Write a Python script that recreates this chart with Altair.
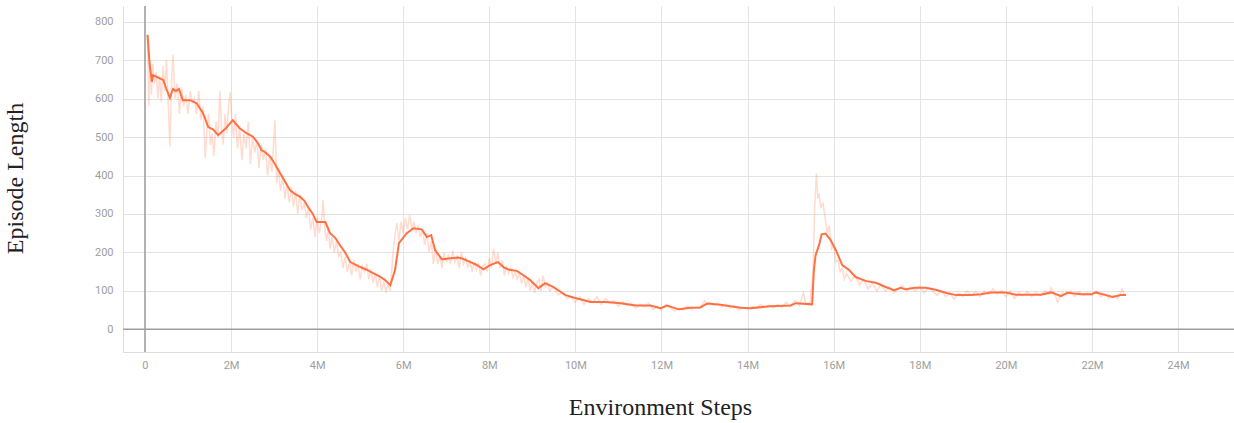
import altair as alt
import pandas as pd

# ---- data (steps in millions) ----
smooth_steps = [0.06, 0.11, 0.16, 0.19, 0.30, 0.43, 0.49, 0.58, 0.65, 0.72, 0.79, 0.88, 1.05, 1.20, 1.35,
                1.47, 1.58, 1.70, 1.80, 1.88, 2.04, 2.20, 2.36, 2.51, 2.62, 2.71, 2.80, 2.91, 3.02, 3.14,
                3.25, 3.37, 3.48, 3.60, 3.70, 3.79, 3.90, 3.99, 4.19,
                4.30, 4.42, 4.53, 4.65, 4.77, 5.00, 5.15, 5.30, 5.45, 5.58, 5.70, 5.81, 5.90, 6.08, 6.24,
                6.43, 6.55, 6.65, 6.74,
                6.90, 7.10, 7.28, 7.40, 7.56, 7.70, 7.86, 8.02, 8.20, 8.35, 8.49, 8.64, 8.80, 8.95, 9.14,
                9.30, 9.49, 9.77, 10.04, 10.35,
                10.70, 11.05, 11.40, 11.74, 11.98, 12.13, 12.40, 12.67, 12.90, 13.06, 13.37, 13.84, 14.07,
                14.53, 15.00, 15.12, 15.50, 15.54, 15.58, 15.66, 15.72, 15.81, 15.93, 16.05, 16.20, 16.36,
                16.51, 16.74, 16.98, 17.21, 17.40, 17.56, 17.67, 17.90, 18.14, 18.37, 18.60, 18.84, 19.19,
                19.42, 19.65, 20.00, 20.23, 20.81, 21.05, 21.20, 21.28, 21.43, 21.74, 21.98, 22.09, 22.33,
                22.48, 22.67, 22.79]
smooth_vals = [766, 688, 644, 661, 655, 648, 627, 602, 625, 620, 625, 596, 596, 588, 562,
               526, 520, 505, 515, 523, 544, 523, 510, 501, 485, 466, 460, 449, 430, 406,
               385, 362, 352, 345, 335, 318, 300, 279, 279,
               250, 238, 219, 200, 175, 162, 155, 146, 138, 128, 115, 154, 224, 250, 263,
               260, 240, 245, 206,
               182, 185, 187, 183, 175, 168, 156, 167, 175, 160, 154, 152, 140, 128, 107,
               120, 110, 89, 80, 71,
               71, 68, 62, 62, 55, 62, 52, 56, 57, 67, 64, 56, 55,
               60, 62, 68, 65, 154, 193, 219, 247, 249, 232, 206, 167, 154,
               136, 126, 121, 110, 102, 108, 104, 108, 108, 103, 95, 89, 89,
               91, 96, 96, 90, 90, 96, 90, 86, 95, 91, 91, 96, 89,
               84, 89, 89]

raw_steps = [0.06, 0.09, 0.12, 0.15, 0.18, 0.22, 0.26, 0.30, 0.34, 0.38, 0.42, 0.46, 0.50, 0.55, 0.58,
             0.62, 0.65, 0.70, 0.75, 0.80, 0.85, 0.90, 0.95, 1.00, 1.05, 1.10, 1.15, 1.20, 1.25, 1.30,
             1.35, 1.40, 1.44, 1.48, 1.52, 1.56, 1.60, 1.65, 1.70, 1.74, 1.78, 1.82, 1.86, 1.90, 1.94,
             1.98, 2.02, 2.06, 2.10, 2.15, 2.20, 2.25, 2.30, 2.35, 2.40, 2.45, 2.50, 2.55, 2.60, 2.65,
             2.70, 2.75, 2.80, 2.85, 2.90, 2.95, 3.02, 3.06, 3.10, 3.15, 3.20, 3.25, 3.30, 3.35, 3.40,
             3.45, 3.50, 3.55, 3.60, 3.65, 3.70, 3.75, 3.80, 3.85, 3.90, 3.95, 4.00, 4.05, 4.10, 4.14,
             4.18, 4.22, 4.26, 4.30, 4.35, 4.40, 4.45, 4.50, 4.55, 4.60, 4.65, 4.70, 4.75, 4.80, 4.85,
             4.90, 4.95, 5.00, 5.05, 5.10, 5.15, 5.20, 5.25, 5.30, 5.35, 5.40, 5.45, 5.50, 5.55, 5.60,
             5.65, 5.70, 5.75, 5.80, 5.85, 5.90, 5.95, 6.00, 6.05, 6.10, 6.15, 6.20, 6.25, 6.30, 6.35,
             6.40, 6.45, 6.50, 6.55, 6.60, 6.65, 6.70, 6.75, 6.80, 6.85, 6.90, 6.95, 7.00, 7.05, 7.10,
             7.15, 7.20, 7.25, 7.30, 7.35, 7.40, 7.45, 7.50, 7.55, 7.60, 7.65, 7.70, 7.75, 7.80, 7.85,
             7.90, 7.95, 8.00, 8.05, 8.10, 8.15, 8.20, 8.25, 8.30, 8.35, 8.40, 8.45, 8.50, 8.55, 8.60,
             8.65, 8.70, 8.75, 8.80, 8.85, 8.90, 8.95, 9.00, 9.05, 9.10, 9.15, 9.20, 9.25, 9.30, 9.35,
             9.40, 9.50, 9.60, 9.70, 9.80, 9.90, 10.00, 10.10, 10.20, 10.30, 10.40, 10.50, 10.60, 10.70,
             10.80, 10.90, 11.00, 11.10, 11.20, 11.30, 11.40, 11.50, 11.60, 11.70, 11.80, 11.90, 12.00,
             12.10, 12.20, 12.30, 12.40, 12.50, 12.60, 12.70, 12.80, 12.90, 13.00, 13.05, 13.10, 13.20,
             13.30, 13.40, 13.50, 13.60, 13.70, 13.80, 13.90, 14.00, 14.10, 14.20, 14.30, 14.40, 14.50,
             14.60, 14.70, 14.80, 14.90, 15.00, 15.10, 15.20, 15.30, 15.35, 15.45, 15.52, 15.56, 15.60,
             15.63, 15.66, 15.70, 15.75, 15.80, 15.85, 15.90, 15.95, 16.00, 16.05, 16.10, 16.15, 16.20,
             16.25, 16.30, 16.40, 16.50, 16.60, 16.70, 16.80, 16.90, 17.00, 17.10, 17.20, 17.30, 17.40,
             17.50, 17.60, 17.70, 17.80, 17.90, 18.00, 18.10, 18.20, 18.30, 18.40, 18.50, 18.60, 18.70,
             18.80, 18.90, 19.00, 19.10, 19.20, 19.30, 19.40, 19.50, 19.60, 19.70, 19.80, 19.90, 20.00,
             20.10, 20.20, 20.30, 20.40, 20.50, 20.60, 20.70, 20.80, 20.90, 21.00, 21.05, 21.15, 21.20,
             21.30, 21.40, 21.50, 21.60, 21.70, 21.80, 21.90, 22.00, 22.10, 22.20, 22.30, 22.40, 22.50,
             22.60, 22.70, 22.75, 22.79]
raw_vals = [766, 580, 700, 610, 690, 640, 670, 600, 660, 590, 685, 620, 700, 560, 475,
            650, 715, 600, 640, 560, 630, 580, 610, 560, 620, 590, 600, 560, 620, 545,
            580, 445, 520, 560, 480, 510, 450, 540, 500, 620, 520, 480, 560, 510, 580,
            617, 540, 500, 560, 470, 530, 440, 510, 470, 540, 430, 500, 460, 490, 420,
            480, 440, 470, 400, 450, 410, 544, 380, 420, 360, 400, 340, 380, 330, 370,
            320, 360, 300, 350, 310, 330, 290, 320, 260, 290, 240, 290, 250, 280, 336,
            260, 230, 270, 210, 240, 200, 230, 190, 200, 160, 190, 150, 175, 140, 180,
            150, 170, 130, 165, 150, 170, 130, 155, 120, 145, 110, 140, 100, 125, 95,
            120, 100, 180, 240, 276, 230, 280, 250, 290, 260, 297, 260, 280, 250, 270,
            240, 260, 220, 250, 200, 230, 170, 210, 170, 190, 160, 200, 175, 195, 170,
            205, 175, 190, 160, 200, 170, 185, 160, 180, 150, 175, 155, 170, 140, 165,
            170, 150, 185, 160, 210, 170, 200, 160, 180, 140, 165, 145, 160, 135, 150,
            130, 145, 120, 140, 110, 135, 100, 125, 95, 120, 130, 100, 140, 110, 120,
            100, 110, 90, 95, 80, 85, 70, 85, 65, 80, 70, 85, 65, 80,
            70, 75, 60, 72, 62, 68, 55, 65, 58, 68, 52, 60, 50,
            65, 55, 48, 55, 50, 60, 52, 58, 55, 75, 65, 70, 62,
            68, 58, 65, 55, 62, 50, 58, 52, 60, 55, 65, 58, 62,
            55, 65, 58, 70, 60, 75, 62, 95, 65, 70, 150, 320, 406,
            340, 354, 315, 330, 290, 250, 270, 210, 220, 175, 180, 150, 160,
            130, 145, 125, 140, 115, 130, 105, 120, 100, 115, 100, 110, 95,
            105, 115, 100, 110, 100, 112, 95, 108, 100, 88, 100, 85, 95,
            78, 95, 85, 100, 88, 98, 85, 100, 90, 105, 92, 100, 85,
            100, 80, 95, 88, 98, 85, 95, 88, 100, 92, 108, 88, 70,
            95, 90, 100, 85, 98, 88, 95, 88, 100, 85, 92, 80, 88,
            80, 105, 90, 92]

x_ticks = [0, 2, 4, 6, 8, 10, 12, 14, 16, 18, 20, 22, 24]
y_ticks = [0, 100, 200, 300, 400, 500, 600, 700, 800]
zero_x = [0]
zero_y = [0]

smooth = pd.DataFrame({"step": smooth_steps, "value": smooth_vals})
raw = pd.DataFrame({"step": raw_steps, "value": raw_vals})
zx = pd.DataFrame({"step": zero_x})
zy = pd.DataFrame({"value": zero_y})

xs = alt.Scale(domain=[-0.51, 25.3], nice=False, zero=False)
ys = alt.Scale(domain=[-59, 841], nice=False, zero=False)

x_axis = alt.Axis(values=x_ticks,
                  labelExpr="datum.value == 0 ? '0' : datum.value + 'M'",
                  title="Environment Steps", titleX=537, titleY=62,
                  titleAlign="center", titleBaseline="alphabetic",
                  labelPadding=7)
y_axis = alt.Axis(values=y_ticks, title="Episode Length",
                  titleX=-108, titleY=172, titleAlign="center",
                  titleBaseline="middle", titleAngle=270, labelPadding=10)

X = alt.X("step:Q", scale=xs, axis=x_axis)
Y = alt.Y("value:Q", scale=ys, axis=y_axis)

raw_line = alt.Chart(raw).mark_line(color="#ff7043", opacity=0.25, strokeWidth=1.5).encode(x=X, y=Y)
smooth_line = alt.Chart(smooth).mark_line(color="#ff7043", strokeWidth=2).encode(x=X, y=Y)
vrule = alt.Chart(zx).mark_rule(color="#9e9e9e", strokeWidth=1.5).encode(x=X)
hrule = alt.Chart(zy).mark_rule(color="#9e9e9e", strokeWidth=1.5).encode(y=Y)

chart = alt.layer(vrule, hrule, raw_line, smooth_line).properties(
    width=1111, height=346,
    autosize=alt.AutoSizeParams(type="none"),
    padding={"left": 123, "top": 6, "right": 0, "bottom": 71},
).configure_view(stroke=None).configure_axis(
    labelFont="Roboto", labelFontSize=11, labelColor="#9e9e9e",
    ticks=False, domainColor="#dddddd", domainWidth=1,
    gridColor="#e3e3e3", gridWidth=1,
    titleFont="Liberation Serif", titleFontSize=24, titleFontWeight="normal",
    titleColor="#222222",
)

chart.save("out.html", embed_options={"renderer": "svg", "actions": False})
